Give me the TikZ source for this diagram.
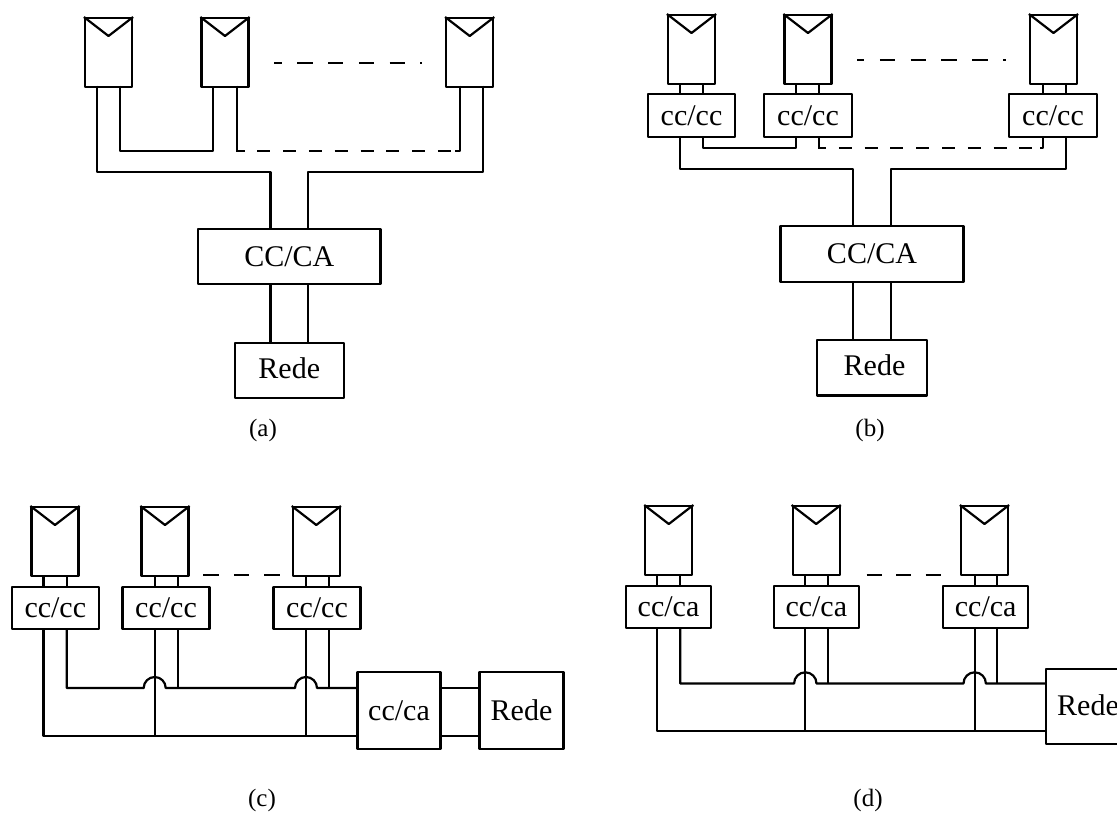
\documentclass[tikz,border=0pt]{standalone}
\usepackage{fontspec}
\setmainfont{Liberation Serif}
\tikzset{
  x=1pt,y=-1pt,
  wire/.style={line width=2.2pt,line join=round},
  dashwire/.style={line width=2.2pt,dash pattern=on 13pt off 12.8pt},
  gapdash/.style={line width=2.2pt,dash pattern=on 15.3pt off 15.5pt},
  boxnode/.style={draw,line width=2.2pt,line join=round,fill=white,inner sep=0pt,font=\fontsize{30}{30}\selectfont},
  pv/.style={draw,line width=2.2pt,line join=round,fill=white,inner sep=0pt,minimum width=47pt,minimum height=68.6pt},
  caption/.style={inner sep=0pt,font=\fontsize{25}{25}\selectfont},
}
\newcommand{\pvnode}[3]{%
  \node[pv,anchor=north] (#1) at (#2,#3) {};
  \draw[wire] (#1.north west) -- ([yshift=-19pt]#1.north) -- (#1.north east);
}
\begin{document}
\begin{tikzpicture}
\useasboundingbox (0,0) rectangle (1117,823);
% ---------- (a)
\pvnode{a1}{108.5}{17}\pvnode{a2}{225}{17}\pvnode{a3}{469.7}{17}
\coordinate (adl) at (274,63); \coordinate (adr) at (422,63);
\draw[gapdash,dash phase=7.6pt] (adl) -- (adr);
\node[boxnode,minimum width=182.5pt,minimum height=55pt] (acc) at (289.3,256.7) {CC/CA};
\node[boxnode,minimum width=109pt,minimum height=55pt,text height=20pt,text depth=5pt] (are) at (289.3,370.8) {Rede};
\draw[wire] (97,85.5) |- (270.5,172) -- (270.5,229);
\draw[wire] (483,85.5) |- (308,172) -- (308,229);
\draw[wire] (120,85.5) |- (213,151) -- (213,85.5);
\draw[wire] (237,85.5) -- (237,151);
\draw[wire] (460,85.5) |- (455,151);
\draw[dashwire,dash phase=4.5pt] (236,151) -- (452,151);
\draw[wire] (270.5,284) -- (270.5,343);
\draw[wire] (308,284) -- (308,343);
\node[caption] (alab) at (263,430) {(a)};
% ---------- (b)
\pvnode{b1}{691.5}{14}\pvnode{b2}{808}{14}\pvnode{b3}{1053.5}{14}
\node[boxnode,minimum width=87pt,minimum height=43pt] (bc1) at (691.5,115.5) {cc/cc};
\node[boxnode,minimum width=88pt,minimum height=43pt] (bc2) at (808,115.5) {cc/cc};
\node[boxnode,minimum width=88pt,minimum height=43pt] (bc3) at (1053,115.5) {cc/cc};
\coordinate (bdl) at (857,60); \coordinate (bdr) at (1006,60);
\draw[gapdash,dash phase=8pt] (bdl) -- (bdr);
\node[boxnode,minimum width=183pt,minimum height=56pt] (bcc) at (872,254) {CC/CA};
\node[boxnode,minimum width=110pt,minimum height=55.5pt,text height=20pt,text depth=5pt] (bre) at (872,367.7) {\hspace*{5pt}Rede};
\foreach \x in {680,703,796,819,1043,1066} \draw[wire] (\x,83) -- (\x,94);
\draw[wire] (680,137) |- (853.3,169) -- (853.3,226);
\draw[wire] (1066,137) |- (890.7,169) -- (890.7,226);
\draw[wire] (703,137) |- (796,148) -- (796,137);
\draw[wire] (819,137) -- (819,148);
\draw[wire] (1043,137) |- (1039.5,148);
\draw[dashwire,dash phase=5pt] (818,148) -- (1034,148);
\draw[wire] (853.3,282) -- (853.3,340);
\draw[wire] (890.7,282) -- (890.7,340);
\node[caption] (blab) at (870,430) {(b)};
% ---------- (c)
\pvnode{c1}{55}{506}\pvnode{c2}{165}{506}\pvnode{c3}{316.3}{506}
\node[boxnode,minimum width=87pt,minimum height=42.5pt] (cc1) at (55.3,608) {cc/cc};
\node[boxnode,minimum width=87pt,minimum height=42.5pt] (cc2) at (166,608) {cc/cc};
\node[boxnode,minimum width=87pt,minimum height=42.5pt] (cc3) at (317,608) {cc/cc};
\coordinate (cdl) at (203.3,575); \coordinate (cdr) at (280,575);
\draw[line width=2.2pt,dash pattern=on 15.5pt off 15pt] (cdl) -- (cdr);
\node[boxnode,minimum width=83pt,minimum height=77pt] (cca) at (399,710.5) {cc/ca};
\node[boxnode,minimum width=84pt,minimum height=77pt] (cre) at (521.5,710.5) {Rede};
\foreach \x in {43.5,66.7,154.7,177.7,306,329} \draw[wire] (\x,575) -- (\x,587);
\foreach \x in {177.7,329} \draw[wire] (\x,629) -- (\x,688);
\draw[wire] (154.7,629) -- (154.7,736);
\draw[wire] (306,629) -- (306,736);
\draw[wire] (43.5,629) |- (357.5,736);
\draw[wire] (66.7,629) |- (143.7,688) arc[start angle=180,end angle=360,radius=11] -- (295,688) arc[start angle=180,end angle=360,radius=11] -- (357.5,688);
\draw[wire] (440.5,688) -- (479.5,688);
\draw[wire] (440.5,736) -- (479.5,736);
\node[caption] (clab) at (262,800) {(c)};
% ---------- (d)
\pvnode{d1}{668.8}{505}\pvnode{d2}{816.2}{505}\pvnode{d3}{984.5}{505}
\node[boxnode,minimum width=85pt,minimum height=42pt] (dc1) at (668.5,607) {cc/ca};
\node[boxnode,minimum width=85pt,minimum height=42pt] (dc2) at (816.3,607) {cc/ca};
\node[boxnode,minimum width=85pt,minimum height=42pt] (dc3) at (985.7,607) {cc/ca};
\coordinate (ddl) at (866.7,575); \coordinate (ddr) at (941,575);
\draw[line width=2.2pt,dash pattern=on 15pt off 14.5pt] (ddl) -- (ddr);
\node[boxnode,minimum width=84pt,minimum height=75.3pt,text height=20pt,text depth=3.4pt] (dre) at (1088,706.7) {Rede};
\foreach \x in {657.3,680.3,805.3,827.7,974.7,997.3} \draw[wire] (\x,575) -- (\x,586);
\draw[wire] (805.3,628) -- (805.3,730.7);
\draw[wire] (974.7,628) -- (974.7,730.7);
\draw[wire] (827.7,628) -- (827.7,683.5);
\draw[wire] (997.3,628) -- (997.3,683.5);
\draw[wire] (657.3,628) |- (1045.7,730.7);
\draw[wire] (680.3,628) |- (794.1,683.5) arc[start angle=180,end angle=360,radius=11.2] -- (963.5,683.5) arc[start angle=180,end angle=360,radius=11.2] -- (1045.7,683.5);
\node[caption] (dlab) at (868,800) {(d)};
\end{tikzpicture}
\end{document}
